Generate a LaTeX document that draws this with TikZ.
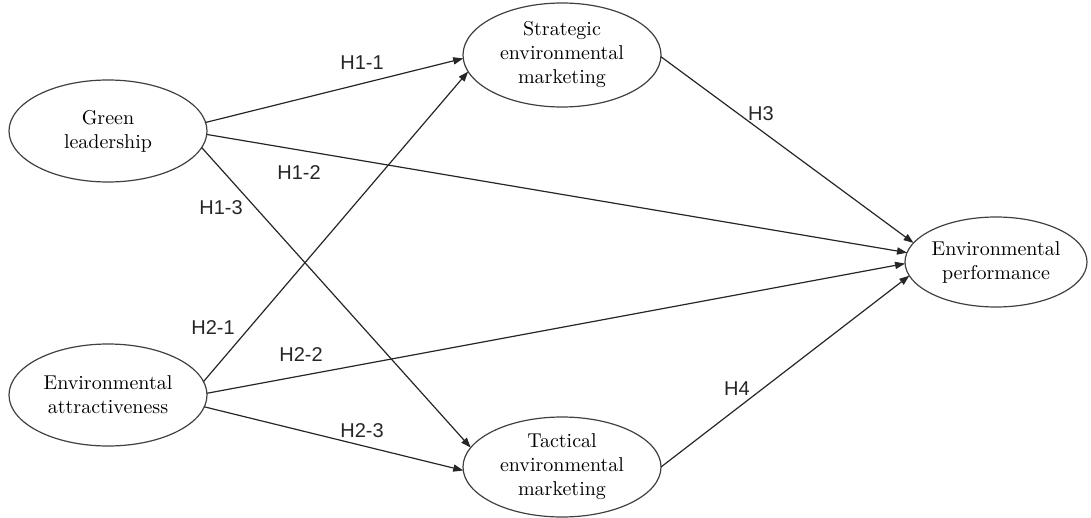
\documentclass[tikz,border=0pt]{standalone}
\usepackage{fontspec}
\setsansfont{Liberation Sans}
\usetikzlibrary{arrows.meta, shapes.geometric}

\begin{document}
\begin{tikzpicture}[
  x=0.5pt, y=-0.5pt,
  construct/.style={draw=black!75, line width=0.6pt, ellipse, inner sep=0pt, outer sep=0pt,
    minimum width=99pt, minimum height=51pt, align=center, font=\normalsize},
  hyp/.style={font=\sffamily\normalsize, text=black!85},
  arr/.style={-{Triangle[length=5pt, width=3.6pt]}, line width=0.6pt, black!85},
]
  \useasboundingbox (0,0) rectangle (1091,518);

  \node[construct] (green) at (108,131) {Green\\leadership};
  \node[construct] (attr) at (108,395) {Environmental\\attractiveness};
  \node[construct, minimum height=52pt] (strat) at (562,55) {Strategic\\environmental\\marketing};
  \node[construct, minimum height=50pt] (tact) at (562,467) {Tactical\\environmental\\marketing};
  \node[construct, minimum width=89pt, minimum height=45pt] (perf) at (996,262) {Environmental\\performance};

  \draw[arr] (green.5) -- (strat.182);
  \draw[arr] (green.-2) -- (perf.174);
  \draw[arr] (green.-10) -- (tact.168);
  \draw[arr] (attr.8) -- (strat.190);
  \draw[arr] (attr.1) -- (perf.181);
  \draw[arr] (attr.-7) -- (tact.182);
  \draw[arr] (strat.-1) -- (perf.167);
  \draw[arr] (tact.0) -- (perf.189);

  % hypothesis labels
  \node[hyp] (h11) at (362,63) {H1-1};
  \node[hyp] (h12) at (299,173) {H1-2};
  \node[hyp] (h13) at (221,208) {H1-3};
  \node[hyp] (h21) at (213,328) {H2-1};
  \node[hyp] (h22) at (301,355) {H2-2};
  \node[hyp] (h23) at (362,431) {H2-3};
  \node[hyp] (h3) at (761,114) {H3};
  \node[hyp] (h4) at (737,389) {H4};
\end{tikzpicture}
\end{document}
